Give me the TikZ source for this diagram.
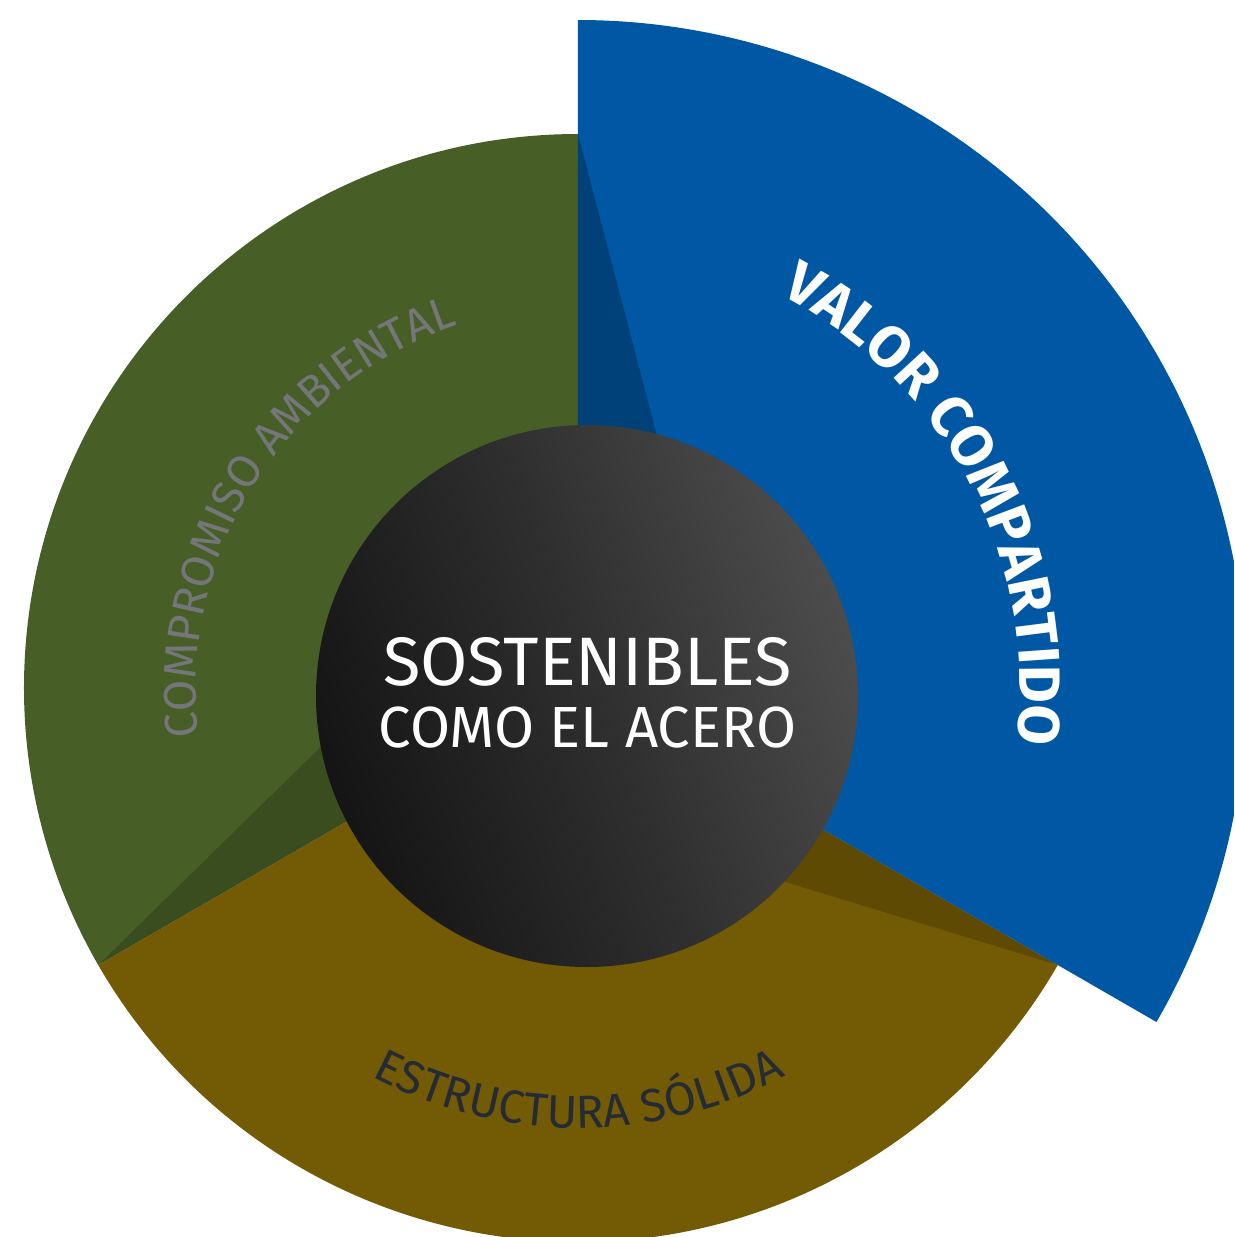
\documentclass[tikz,border=0pt]{standalone}
\usepackage{fontspec}
\setmainfont{Fira Sans}
\usetikzlibrary{decorations.text,positioning}

\definecolor{valorblue}{HTML}{0057A4}
\definecolor{ambgreen}{HTML}{475F27}
\definecolor{solidolive}{HTML}{735A04}
\definecolor{ambgray}{HTML}{75767A}
\definecolor{soliddark}{HTML}{242B35}

\tikzset{
  ringtext/.style={decorate,decoration={text along path,text align=center,text color=#1}},
  centertext/.style={text=white,inner sep=0pt,anchor=base}
}

\begin{document}
\begin{tikzpicture}[line cap=round,line join=round]
  \useasboundingbox (-5.78,-5.49) rectangle (6.56,6.88);
  \begin{scope}
    \clip (-5.78,-5.49) rectangle (6.56,6.88);
    \fill[ambgreen] (0,0) -- (90:5.54) arc[start angle=90,end angle=210,radius=5.54] -- cycle;
    \fill[solidolive] (0,0) -- (210:5.54) arc[start angle=210,end angle=330,radius=5.54] -- cycle;
    \fill[valorblue] (0,0) -- (-30:6.68) arc[start angle=-30,end angle=90,radius=6.68] -- cycle;
    \fill[black,opacity=0.25] (90:5.54) -- (0,0) -- (1.22,0.88) -- cycle;
    \fill[black,opacity=0.18] (210:5.54) -- (0,0) -- (-1.78,0.19) -- cycle;
    \fill[black,opacity=0.17] (330:5.54) -- (0,0) -- (1.22,-1.68) -- cycle;
  \end{scope}

  \node[circle,minimum size=5.42cm,inner sep=0pt,top color=black!70,bottom color=black!92,middle color=black!82,shading angle=-70] (steel) at (0.09,-0.08) {};

  \path[ringtext=white,decoration={text={|\bfseries\fontsize{16.6}{16.6}\selectfont|VALOR COMPARTIDO}}]
    (78.8:4.42) arc[start angle=78.8,end angle=-23.2,radius=4.42];
  \path[ringtext=ambgray,decoration={text={|\fontsize{13}{13}\selectfont|COMPROMISO AMBIENTAL}}]
    (200:3.82) arc[start angle=200,end angle=95.6,radius=3.82];
  \path[ringtext=soliddark,decoration={text={|\fontsize{13.2}{13.2}\selectfont|ESTRUCTURA SÓLIDA}}]
    (225:4.40) arc[start angle=225,end angle=315.2,radius=4.40];

  \node[centertext,font=\fontsize{19.5}{19.5}\selectfont] (sost) at (0.095,0.03) {SOSTENIBLES};
  \node[centertext,font=\fontsize{16.5}{16.5}\selectfont] (acero) at (0.095,-0.59) {COMO EL ACERO};
\end{tikzpicture}
\end{document}
